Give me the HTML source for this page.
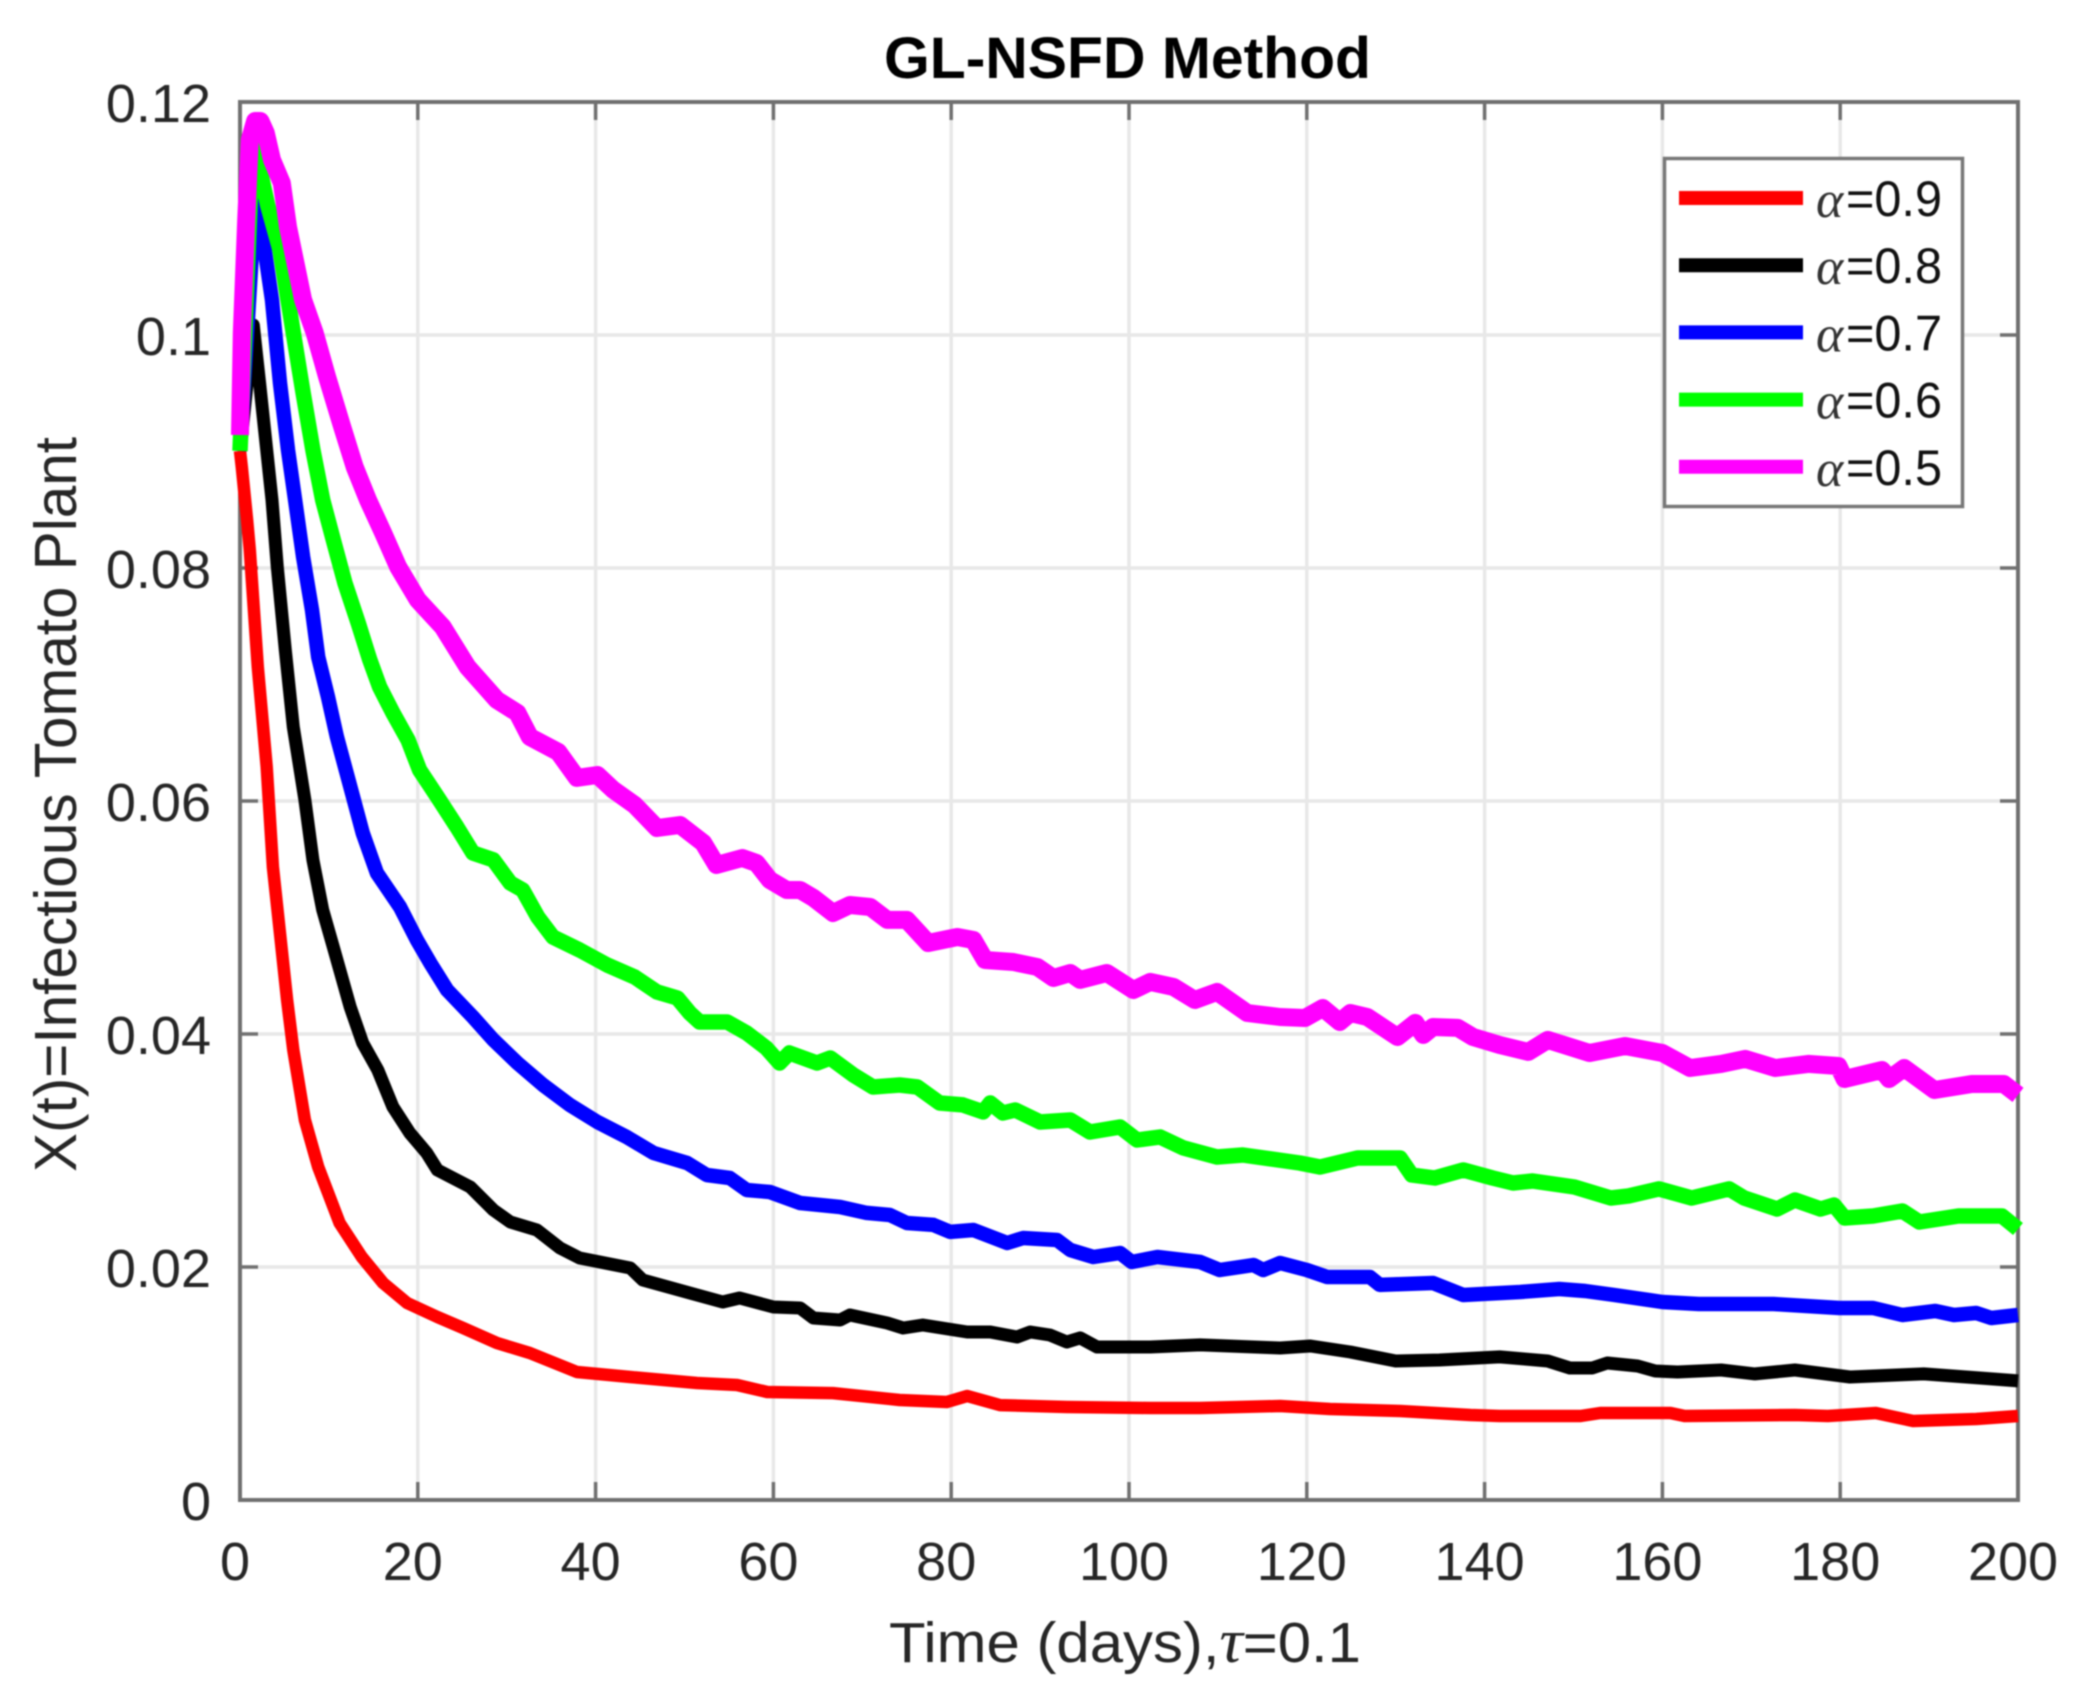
<!DOCTYPE html>
<html lang="en">
<head>
<meta charset="utf-8">
<title>GL-NSFD Method</title>
<style>
html,body{margin:0;padding:0;background:#fff;}
svg{display:block;font-family:"Liberation Sans",sans-serif;filter:blur(0.7px);}
</style>
</head>
<body>
<svg id="chart" xmlns="http://www.w3.org/2000/svg" width="2078" height="1693" viewBox="0 0 2078 1693">
<rect x="0" y="0" width="2078" height="1693" fill="#fff"/>
<g id="grid"></g>
<g id="axes"></g>
<g id="series"></g>
<text x="884" y="78" font-size="58" font-weight="bold" fill="#000" textLength="487" lengthAdjust="spacingAndGlyphs">GL-NSFD Method</text>
<text x="889" y="1662" font-size="57" fill="#262626" textLength="472" lengthAdjust="spacingAndGlyphs">Time (days),<tspan font-family="'Liberation Serif',serif" font-style="italic" font-size="62">τ</tspan>=0.1</text>
<text transform="translate(76,1172) rotate(-90)" x="0" y="0" font-size="59" fill="#262626" textLength="735" lengthAdjust="spacingAndGlyphs">X(t)=Infectious Tomato Plant</text>
<g>
<rect x="1664.5" y="158.5" width="298" height="348" fill="#fff" stroke="#777" stroke-width="3.5"/>
<g id="legend-entries"></g>
</g>
</svg>
<script>
var xTickValues = [0, 20, 40, 60, 80, 100, 120, 140, 160, 180, 200];
var xTickLabels = ['0', '20', '40', '60', '80', '100', '120', '140', '160', '180', '200'];
var yTickValues = [0, 0.02, 0.04, 0.06, 0.08, 0.1, 0.12];
var yTickLabels = ['0', '0.02', '0.04', '0.06', '0.08', '0.1', '0.12'];
var legendLabels = ['0.9', '0.8', '0.7', '0.6', '0.5'];

var days09 = [0,.2,.8,1.1,2,3,3.7,5.3,6,7.3,8.8,11.2,13.7,16.1,18.8,22.2,25.1,28.9,32.6,37.9,43.9,51.4,55.9,59.3,66.7,74.2,79.5,81.8,85.5,93,102.4,108,117,122.6,130.5,138.4,141.7,150.8,153,160.9,162.5,174.9,178.6,184,188.2,195.3,200];
var values09 = [.09005,.08867,.08412,.08155,.0715,.06292,.05434,.04292,.03863,.03262,.02858,.02378,.02086,.01863,.01691,.01571,.01476,.01348,.01262,.01099,.01056,.01004,.00987,.00927,.00918,.00858,.00841,.00893,.00815,.00798,.0079,.0079,.00807,.00781,.00764,.0073,.00721,.00721,.00747,.00747,.00721,.0073,.00721,.00747,.00678,.00695,.00721];

var days08 = [0,1.5,2.2,2.8,3.6,4.2,5.1,6,7.3,8.2,9.3,10.5,12.4,13.8,15.5,17.2,19.1,21,22.2,25.9,28.5,30.4,33.4,36,38.2,43.9,45.3,50.6,54.3,56.2,60,63,64.5,67.5,68.6,72.8,74.6,76.8,81.8,84.4,87.4,88.9,91.1,93,94.5,96.4,102.4,108,117,120.4,124.9,130,134.9,141.7,147.1,149.6,152.1,153.8,157.2,159.2,161.7,166.6,170.4,174.9,181.1,189.4,195.7,200];
var values08 = [.09005,.10086,.09588,.09159,.08584,.08009,.07296,.06635,.06009,.05494,.05065,.04747,.04232,.03923,.03691,.03374,.0315,.02979,.02833,.02687,.02489,.02386,.02318,.02163,.02077,.01991,.01888,.01777,.017,.01734,.01657,.01648,.01562,.01545,.01588,.01519,.01476,.01502,.01442,.01442,.01399,.01442,.01416,.01356,.01391,.01313,.01313,.01331,.01305,.01322,.0127,.01193,.01202,.01228,.01193,.01133,.01133,.01176,.0115,.01107,.01099,.01116,.01082,.01116,.01056,.01082,.01047,.01022];

var days07 = [0,1.9,2.5,3.6,4.5,5.4,6.2,7.1,8.1,8.8,9.9,10.9,12.6,13.8,15.4,18,19.9,21.4,23.3,26.2,28.5,31.2,34.1,37.1,40.2,43.5,46.5,50.3,52.5,55.1,57,59.6,63,67.5,70.5,73.1,75,78,79.9,82.5,86.3,88.1,91.9,93.4,96,99,100.3,103.2,108,110.2,114,115.1,117,120,122.3,127.1,128.2,134.2,137.6,144,148.4,151.3,154.6,160,164.1,172.5,179.9,183.7,187,190.7,192.8,195.3,197,200];
var values07 = [.09005,.11417,.10876,.10301,.09588,.09013,.08584,.08095,.0764,.07236,.06893,.0655,.06069,.05726,.05382,.0509,.04807,.0461,.04378,.04146,.03949,.03751,.03562,.03391,.03245,.03116,.02979,.02893,.0279,.02764,.02661,.02644,.02549,.02515,.02464,.02446,.02378,.02361,.02301,.02318,.02206,.02249,.02232,.02146,.02086,.0212,.02043,.02086,.02043,.01974,.02017,.01974,.02034,.01974,.01914,.01914,.01846,.01863,.0176,.01785,.01811,.01794,.0176,.017,.01682,.01682,.01648,.01648,.01588,.01622,.01588,.01605,.01562,.01588];

var days06 = [0,1.5,2,3.1,4.5,6,7.1,8.2,9.3,10.5,11.8,13.3,14.6,15.7,17.2,18.9,20.2,22.2,24.4,26.2,28.5,30.4,31.8,33.5,35.2,38.2,41.3,44.4,46.9,49.2,50.6,51.7,54.8,57,59.2,60.7,61.8,64.9,66.4,69,71.2,74.2,76.2,78.7,81.3,83.6,84.4,85.8,87.2,90,93.4,95.6,99,100.9,103.5,106.1,109.9,112.8,119.2,121.5,125.7,130.5,131.8,134.4,137.6,140.9,143.2,145.4,150.1,154.2,156.2,159.6,163.3,167.5,169.2,172.9,174.9,177.8,179.3,180.5,183.7,187,188.9,193.3,198.2,200];
var values06 = [.09005,.118,.11503,.11116,.1073,.10018,.09503,.09013,.08584,.08241,.07872,.07528,.07211,.06979,.06756,.06524,.06266,.06035,.05777,.05554,.05494,.05296,.05236,.05004,.04833,.04721,.04592,.04489,.04361,.04309,.0418,.04103,.04103,.04009,.0388,.03751,.03837,.03751,.03794,.03648,.03545,.03562,.03545,.03408,.03391,.03331,.03408,.03322,.03348,.03245,.03262,.03159,.03202,.0309,.03116,.03022,.02944,.02961,.02893,.02858,.02936,.02936,.0279,.02764,.02833,.02764,.02721,.02738,.02687,.02592,.0261,.0267,.02592,.0267,.02592,.02498,.02575,.02498,.02532,.02421,.02438,.02481,.02386,.02438,.02438,.02326];

var days05 = [0,.2,.7,1.1,1.7,2.3,2.9,3.6,4.7,5.4,7.1,8.4,9.8,11.5,12.9,14.4,16.1,17.8,20,22.8,25.6,28.9,31.2,32.6,35.8,37.9,40.2,42,44.4,46.9,49.5,52.1,53.6,56.5,58.1,59.6,61.5,63,64.5,66.7,68.6,70.9,72.8,75,77.4,80.7,82.5,83.8,87,89.7,91.5,93.4,94.5,97.5,100.5,102.4,105,107.4,109.9,113.3,117,119.8,121.8,123.7,124.9,126.8,130.2,132.2,133.1,134.2,137,138.7,141.7,144.9,147.1,151.8,155.8,160,163.1,166.6,169.3,172.7,176.4,179.8,180.5,184.7,185.5,187.2,190.6,194.8,198.4,200];
var values05 = [.09142,.10018,.10988,.11674,.11837,.11837,.11734,.11503,.11305,.10928,.10301,.10018,.0964,.09211,.08867,.08584,.08301,.08009,.07726,.07494,.0715,.06867,.06756,.0655,.06421,.06198,.06223,.06095,.05966,.05768,.05794,.0564,.05451,.05511,.05468,.05322,.05236,.05236,.05168,.05039,.05107,.0509,.04979,.04979,.04781,.04833,.04807,.04635,.04618,.04575,.04481,.04524,.04464,.04524,.04378,.04447,.04404,.04292,.04361,.0418,.04146,.04137,.04223,.04103,.0418,.04146,.03974,.04095,.03992,.0406,.04052,.03974,.03906,.03846,.03949,.03837,.03897,.03837,.03708,.03743,.03786,.03708,.03743,.03725,.03614,.03691,.03614,.03708,.03519,.03571,.03571,.03477];

var SVGNS = 'http://www.w3.org/2000/svg';
function xScale(t) { return 240 + (t / 200) * 1778; }
function yScale(v) { return 1500 - (v / 0.12) * 1398; }
function make(tag, parent) {
  var node = document.createElementNS(SVGNS, tag);
  parent.appendChild(node);
  return node;
}
function setLine(node, x1, y1, x2, y2, stroke, width) {
  node.setAttribute('x1', x1);
  node.setAttribute('y1', y1);
  node.setAttribute('x2', x2);
  node.setAttribute('y2', y2);
  node.setAttribute('stroke', stroke);
  node.setAttribute('stroke-width', width);
}

var gridGroup = document.getElementById('grid');
var axesGroup = document.getElementById('axes');
var seriesGroup = document.getElementById('series');
var legendGroup = document.getElementById('legend-entries');

var TOP = yScale(0.12), BOTTOM = yScale(0), LEFT = xScale(0), RIGHT = xScale(200);
var GRID = '#e8e8e8', AXIS = '#707070', TICK = 18;

xTickValues.forEach(function (t, i) {
  var x = xScale(t);
  if (i > 0 && i < xTickValues.length - 1) {
    var gridX = make('line', gridGroup);
    
    
    setLine(gridX, x, TOP, x, BOTTOM, GRID, 3.5);
  }
  var tickB = make('line', axesGroup);
  
  
  setLine(tickB, x, BOTTOM, x, BOTTOM - TICK, AXIS, 3.5);
  var tickT = make('line', axesGroup);
  
  
  setLine(tickT, x, TOP, x, TOP + TICK, AXIS, 3.5);
  var label = make('text', axesGroup);
  
  
  label.setAttribute('x', x - 5);
  label.setAttribute('y', 1580);
  label.setAttribute('font-size', '54');
  label.setAttribute('fill', '#262626');
  label.setAttribute('text-anchor', 'middle');
  label.textContent = xTickLabels[i];
});

yTickValues.forEach(function (v, i) {
  var y = yScale(v);
  if (i > 0 && i < yTickValues.length - 1) {
    var gridY = make('line', gridGroup);
    
    
    setLine(gridY, LEFT, y, RIGHT, y, GRID, 3.5);
  }
  var tickL = make('line', axesGroup);
  
  
  setLine(tickL, LEFT, y, LEFT + TICK, y, AXIS, 3.5);
  var tickR = make('line', axesGroup);
  
  
  setLine(tickR, RIGHT, y, RIGHT - TICK, y, AXIS, 3.5);
  var label = make('text', axesGroup);
  
  
  label.setAttribute('x', 211);
  label.setAttribute('y', y + 20);
  label.setAttribute('font-size', '54');
  label.setAttribute('fill', '#262626');
  label.setAttribute('text-anchor', 'end');
  label.textContent = yTickLabels[i];
});

var frame = make('rect', axesGroup);


frame.setAttribute('x', LEFT);
frame.setAttribute('y', TOP);
frame.setAttribute('width', RIGHT - LEFT);
frame.setAttribute('height', BOTTOM - TOP);
frame.setAttribute('fill', 'none');
frame.setAttribute('stroke', AXIS);
frame.setAttribute('stroke-width', '4');

function drawSeries(name, days, values, color, width) {
  var pts = [];
  for (var i = 0; i < days.length; i++) {
    pts.push(xScale(days[i]).toFixed(1) + ',' + yScale(values[i]).toFixed(1));
  }
  var line = make('polyline', seriesGroup);
  
  
  line.setAttribute('points', pts.join(' '));
  line.setAttribute('fill', 'none');
  line.setAttribute('stroke', color);
  line.setAttribute('stroke-width', width);
  line.setAttribute('stroke-linejoin', 'round');
}
drawSeries('series-alpha-0.9', days09, values09, '#ff0000', 12.5);
drawSeries('series-alpha-0.8', days08, values08, '#000000', 13);
drawSeries('series-alpha-0.7', days07, values07, '#0000ff', 14.5);
drawSeries('series-alpha-0.6', days06, values06, '#00ff00', 15.5);
drawSeries('series-alpha-0.5', days05, values05, '#ff00ff', 18);

var legendColors = ['#ff0000', '#000000', '#0000ff', '#00ff00', '#ff00ff'];
legendLabels.forEach(function (lab, i) {
  var rowY = 198 + i * 67.2;
  var swatch = make('line', legendGroup);
  
  
  setLine(swatch, 1679, rowY, 1803, rowY, legendColors[i], 14);
  var alpha = make('text', legendGroup);
  
  
  alpha.setAttribute('x', 1816);
  alpha.setAttribute('y', rowY + 19);
  alpha.setAttribute('font-size', '52');
  alpha.setAttribute('font-style', 'italic');
  alpha.setAttribute('font-family', '"Liberation Serif",serif');
  alpha.setAttribute('fill', '#333');
  alpha.textContent = 'α';
  var value = make('text', legendGroup);
  
  
  value.setAttribute('x', 1846);
  value.setAttribute('y', rowY + 18);
  value.setAttribute('font-size', '50');
  value.setAttribute('fill', '#111');
  value.setAttribute('textLength', '96');
  value.setAttribute('lengthAdjust', 'spacingAndGlyphs');
  value.textContent = '=' + lab;
});
</script>
</body>
</html>
